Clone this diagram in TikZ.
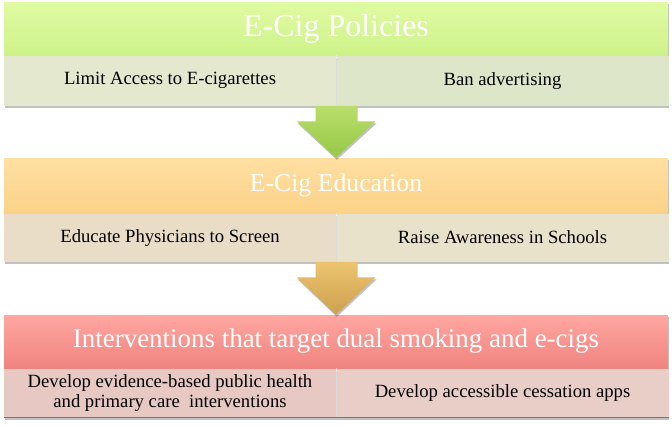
\documentclass[tikz,border=0pt]{standalone}
\usepackage{fontspec}
\setmainfont{Liberation Serif}
\usetikzlibrary{positioning,calc,shadows}

\definecolor{polTop}{RGB}{224,251,163}
\definecolor{polBot}{RGB}{206,242,138}
\definecolor{polCellL}{RGB}{227,232,206}
\definecolor{polCellR}{RGB}{221,230,201}
\definecolor{eduTop}{RGB}{255,223,162}
\definecolor{eduBot}{RGB}{251,210,136}
\definecolor{eduCellL}{RGB}{233,221,199}
\definecolor{eduCellR}{RGB}{233,226,203}
\definecolor{intTop}{RGB}{255,166,161}
\definecolor{intBot}{RGB}{240,132,127}
\definecolor{intCellL}{RGB}{232,200,194}
\definecolor{intCellR}{RGB}{233,205,199}
\definecolor{intLine}{RGB}{205,85,80}
\definecolor{arrGreenTop}{RGB}{185,222,108}
\definecolor{arrGreenBot}{RGB}{150,200,70}
\definecolor{arrGoldTop}{RGB}{236,196,112}
\definecolor{arrGoldBot}{RGB}{206,160,78}

\begin{document}
\begin{tikzpicture}[
    x=0.75pt, y=-0.75pt,
    soft shadow/.style={drop shadow={shadow xshift=0.6pt, shadow yshift=-1.6pt, opacity=0.35, fill=black!70}},
    band/.style={minimum width=498pt, minimum height=39.75pt, inner sep=0pt,
        text=white, font=\fontsize{19.3}{22}\selectfont, soft shadow},
    cell/.style={minimum width=249pt, minimum height=37.5pt, inner sep=0pt,
        align=center, anchor=north west, font=\fontsize{14}{15.5}\selectfont, soft shadow},
    seam/.style={white, opacity=0.45, line width=0.8pt}
]
\useasboundingbox (0,0) rectangle (672,426);

% policies
\node[band, top color=polTop, bottom color=polBot,
      font=\fontsize{24}{28}\selectfont] (pol) at (336,28.5) {E-Cig Policies};
\node[cell, fill=polCellL] (pol1) at (pol.south west) {Limit Access to E-cigarettes};
\node[cell, fill=polCellR] (pol2) at (pol1.north east) {Ban advertising};
\draw[seam] (pol1.north east) -- (pol1.south east);

% education
\node[band, top color=eduTop, bottom color=eduBot,
      minimum height=41.25pt] (edu) at (336,185.5) {E-Cig Education};
\node[cell, fill=eduCellL, minimum height=36pt] (edu1) at (edu.south west) {Educate Physicians to Screen};
\node[cell, fill=eduCellR, minimum height=36pt] (edu2) at (edu1.north east) {Raise Awareness in Schools};
\draw[seam] (edu1.north east) -- (edu1.south east);

% interventions
\node[band, top color=intTop, bottom color=intBot,
      font=\fontsize{20.2}{23}\selectfont] (int) at (336,341.5) {Interventions that target dual smoking and e-cigs};
\node[cell, fill=intCellL, minimum height=36.75pt] (int1) at (int.south west) {Develop evidence-based public health\\and primary care\ \ interventions};
\node[cell, fill=intCellR, minimum height=36.75pt] (int2) at (int1.north east) {Develop accessible cessation apps};
\draw[seam] (int1.north east) -- (int1.south east);
\draw[intLine, line width=1pt] (int1.south west) -- (int2.south east);

% arrows between the bands
\foreach \from/\to/\top/\bot in {pol1/edu/arrGreenTop/arrGreenBot, edu1/int/arrGoldTop/arrGoldBot}
  \shade[top color=\top, bottom color=\bot, soft shadow]
    ([xshift=-15.4pt]\from.south east) -- ([xshift=-15.4pt,yshift=-11.6pt]\from.south east)
    -- ([xshift=-29.6pt,yshift=-11.6pt]\from.south east) -- (\to.north)
    -- ([xshift=29.6pt,yshift=-11.6pt]\from.south east) -- ([xshift=15.4pt,yshift=-11.6pt]\from.south east)
    -- ([xshift=15.4pt]\from.south east) -- cycle;
\end{tikzpicture}
\end{document}
